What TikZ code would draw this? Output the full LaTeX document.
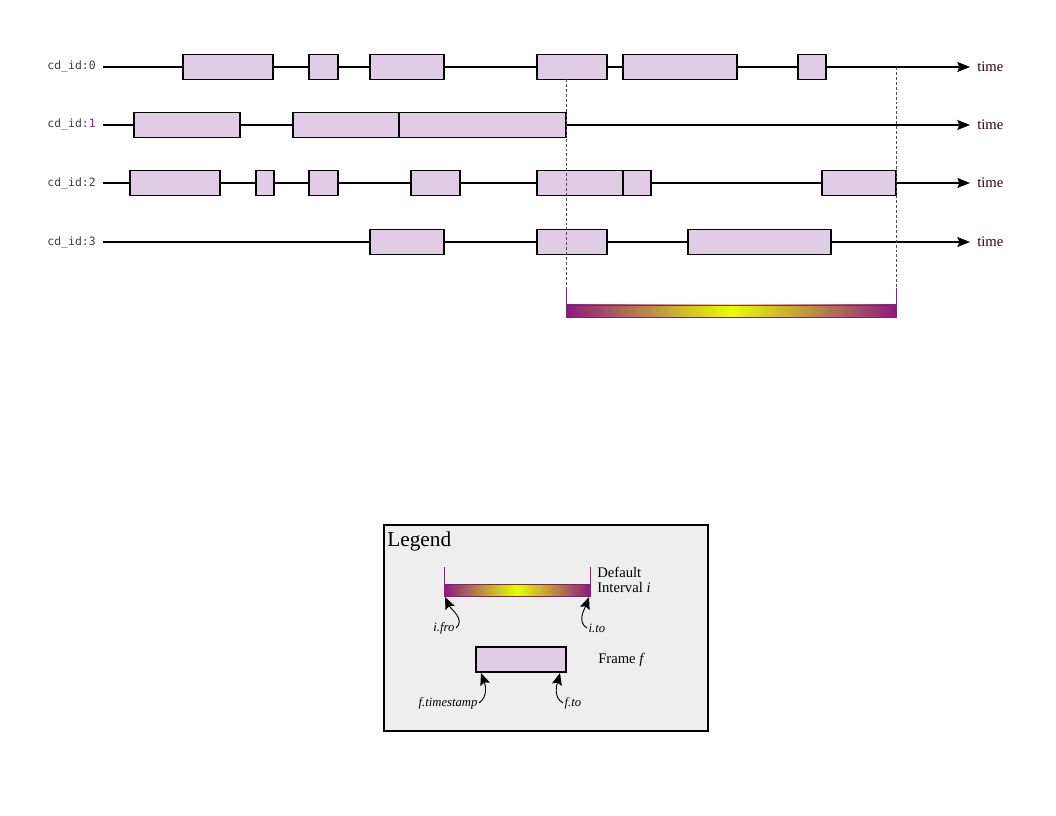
\documentclass[tikz,border=0pt]{standalone}
\usepackage{fontspec}
\setmainfont{Liberation Serif}
\newfontfamily\monofont{DejaVu Sans Mono}
\usetikzlibrary{arrows.meta}
\definecolor{boxfill}{HTML}{E0CCE4}
\definecolor{purp}{HTML}{8C1A80}
\definecolor{yel}{HTML}{E8FF00}
\definecolor{lgbg}{HTML}{EEEEEE}
\definecolor{lblgray}{HTML}{3C3C50}
\definecolor{timecol}{HTML}{2A0010}
\begin{document}
\begin{tikzpicture}[x=0.75pt,y=-0.75pt,
  frm/.style={draw=black,line width=0.8pt,fill=boxfill},
  axis/.style={line width=0.9pt,-{Stealth[length=9.5pt,width=7.5pt,inset=1.5pt]}},
  tlabel/.style={anchor=west,font=\fontsize{11}{13}\selectfont,text=timecol,inner sep=0pt},
  idlabel/.style={anchor=east,font=\monofont\fontsize{8.6}{10}\selectfont,text=lblgray,inner sep=0pt},
  guide/.style={gray!60!black,line width=0.5pt,dash pattern=on 2.2pt off 1.5pt},
  tick/.style={draw=purp,line width=0.7pt},
  callout/.style={line width=0.7pt,-{Stealth[length=9pt,width=7.5pt,inset=1.5pt]}},
  small/.style={font=\itshape\fontsize{9.5}{11}\selectfont,inner sep=1pt},
  ltext/.style={font=\fontsize{11}{12}\selectfont,inner sep=0pt,anchor=west,align=left}
]
\useasboundingbox (0,0) rectangle (1056,816);

% row labels and axes
\foreach \r/\y/\d in {0/67/0,1/125/{\textcolor{purp}{1}},2/183/2,3/242/3}{
  \node[idlabel] (id\r) at (96,\y) {cd\_id:\d};
  \coordinate (s\r) at (103,\y);
  \coordinate (e\r) at (970,\y);
  \draw[axis] (s\r) -- (e\r);
  \node[tlabel] (t\r) at (977,\y) {time};
}

% frames row 0
\foreach \a/\b in {183/273,309/338,370/444,537/607,623/737,798/826}
  \draw[frm] (\a,54.5) rectangle (\b,79.5);
% row 1
\foreach \a/\b in {134/240,293/399,399/566}
  \draw[frm] (\a,112.5) rectangle (\b,137.5);
% row 2
\foreach \a/\b in {130/220,256/274,309/338,411/460,537/623,623/651,822/896}
  \draw[frm] (\a,170.5) rectangle (\b,195.5);
% row 3
\foreach \a/\b in {370/444,537/607,688/831}
  \draw[frm] (\a,229.5) rectangle (\b,254.5);

% guide lines
\coordinate (g1top) at (566,79.5);
\coordinate (g2top) at (896,67);
\coordinate (g1bot) at (566,288);
\coordinate (g2bot) at (896,288);
\draw[guide] (g1top) -- (g1bot);
\draw[guide] (g2top) -- (g2bot);

% interval bar
\shade[left color=purp,right color=purp,middle color=yel] (566,305) rectangle (896,317);
\draw[purp,line width=0.6pt] (566,305) rectangle (896,317);
\draw[tick] (566,288) -- (566,305);
\draw[tick] (896,288) -- (896,305);

% legend
\draw[fill=lgbg,line width=1.3pt] (384,525) rectangle (708,731);
\node[anchor=north west,inner sep=0pt,font=\fontsize{16}{18}\selectfont] (leg) at (387,531) {Legend};

\shade[left color=purp,right color=purp,middle color=yel] (444,584) rectangle (590,596);
\draw[purp,line width=0.6pt] (444,584) rectangle (590,596);
\draw[tick] (444,567) -- (444,584);
\draw[tick] (590,567) -- (590,584);
\coordinate (ifrom) at (445,597);
\coordinate (ito) at (589,597);
\node[ltext] (dint) at (597,580) {Default\\[-1pt]Interval \textit{i}};

\node[small,anchor=east] (lfro) at (456,628) {i.fro};
\node[small,anchor=west] (lto) at (587,628) {i.to};
\draw[callout] (lfro.east) to[out=40,in=-65] (ifrom);
\draw[callout] (lto.west) to[out=150,in=-110] (ito);

\draw[frm] (476,647) rectangle (566,672);
\coordinate (fts) at (481,673);
\coordinate (fto) at (560,673);
\node[ltext] (frm) at (598,660) {Frame \textit{f}};
\node[small,anchor=east] (lts) at (479,703) {f.timestamp};
\node[small,anchor=west] (lfto) at (563,703) {f.to};
\draw[callout] (lts.east) to[out=35,in=-70] (fts);
\draw[callout] (lfto.west) to[out=150,in=-105] (fto);
\end{tikzpicture}
\end{document}
